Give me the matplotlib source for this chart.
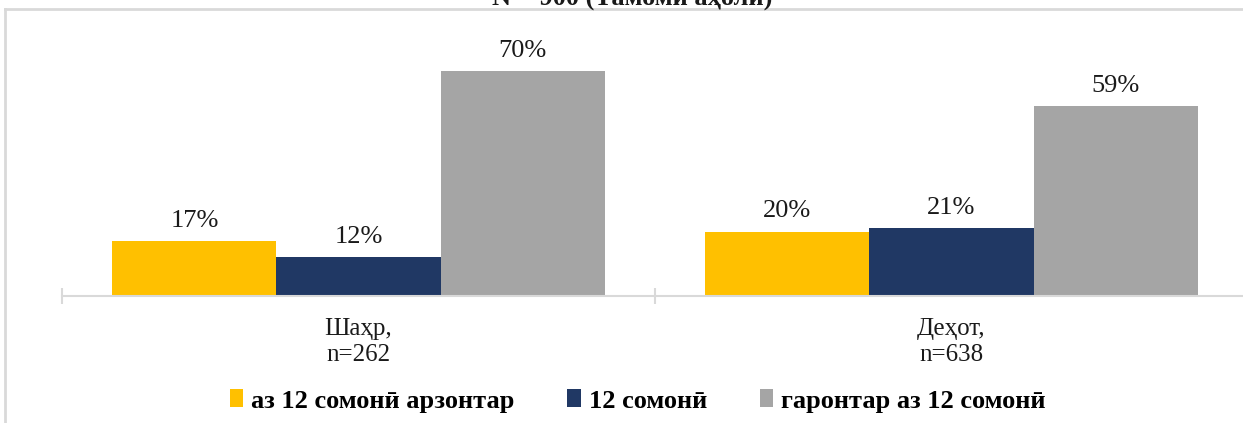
import matplotlib.pyplot as plt
import numpy as np
from matplotlib.lines import Line2D
from matplotlib.patches import Patch

# -------------------------------------------------
# Data
# -------------------------------------------------

categories = ["Шаҳр,\nn=262", "Деҳот,\nn=638"]
series_names = ["аз 12 сомонӣ арзонтар", "12 сомонӣ", "гаронтар аз 12 сомонӣ"]
cheaper = [17, 20]
exact = [12, 21]
dearer = [70, 59]
title = "N = 900 (Тамоми аҳолӣ)"

colors = ["#FFC000", "#203864", "#A5A5A5"]
FONT = ["Liberation Serif", "DejaVu Serif"]

# -------------------------------------------------
# Figure
# -------------------------------------------------

W, H = 1243, 423
fig = plt.figure(figsize=(W / 100, H / 100), dpi=100)
plt.rcParams["font.family"] = FONT

px_per_pct = 3.215
ymax = 80
base_y = 296
ax = fig.add_axes([62 / W, 1 - base_y / H, 1186 / W, ymax * px_per_pct / H])

x = np.arange(len(categories))
bw = 0.2766
values = [cheaper, exact, dearer]
for i, (vals, col, name) in enumerate(zip(values, colors, series_names)):
    bars = ax.bar(x + (i - 1) * bw, vals, width=bw, color=col, label=name)
    for b, v in zip(bars, vals):
        ax.text(b.get_x() + b.get_width() / 2, v + 2.9, f"{v}%",
                ha="center", va="bottom", fontsize=19, color="#1a1a1a")

ax.set_xlim(-0.5, 1.5)
ax.set_ylim(0, ymax)
ax.set_yticks([])
for s in ["top", "right", "left"]:
    ax.spines[s].set_visible(False)
ax.spines["bottom"].set_color("#D9D9D9")
ax.spines["bottom"].set_linewidth(1.5)

ax.set_xticks(x)
ax.set_xticklabels(categories, fontsize=18, color="#1a1a1a", linespacing=1.2)
ax.tick_params(axis="x", which="major", length=0, pad=16)
ax.set_xticks([-0.5, 0.5, 1.5], minor=True)
ax.tick_params(axis="x", which="minor", length=12, direction="inout",
               color="#D9D9D9", width=1.5)

# -------------------------------------------------
# Legend
# -------------------------------------------------

handles = [Patch(facecolor=c, label=n) for c, n in zip(colors, series_names)]
leg = fig.legend(handles=handles, loc="center", bbox_to_anchor=(0.513, 1 - 401 / H),
                 ncol=3, frameon=False, handlelength=0.5, handleheight=0.65,
                 handletextpad=0.3, columnspacing=2.0,
                 prop={"family": FONT, "weight": "bold", "size": 19})

# -------------------------------------------------
# Frame and clipped title
# -------------------------------------------------

fig.add_artist(Line2D([5 / W, 1], [1 - 9 / H, 1 - 9 / H], color="#D9D9D9", lw=2))
fig.add_artist(Line2D([5 / W, 5 / W], [0, 1 - 9 / H], color="#D9D9D9", lw=2))
fig.text(632 / W, 1 - 6 / H, title, ha="center", va="baseline",
         fontsize=19, fontweight="bold", color="#1a1a1a")

fig.savefig("out.png", dpi=100)
